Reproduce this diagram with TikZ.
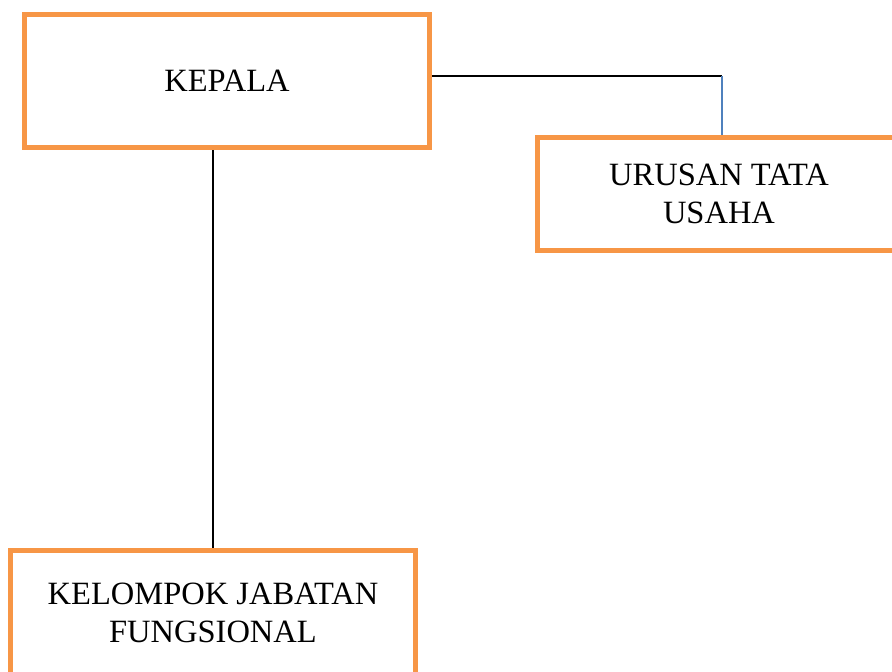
\documentclass[tikz,border=0pt]{standalone}
\usepackage{fontspec}
\setmainfont{Liberation Serif}
\usetikzlibrary{positioning}
\definecolor{oranye}{RGB}{247,150,70}
\definecolor{biru}{RGB}{79,129,189}
\tikzset{
	kotak/.style={draw=oranye, line width=5pt, fill=white, align=center, text=black,
		font=\fontsize{32.5}{38}\selectfont},
	garis/.style={black, line width=1.5pt}
}

\begin{document}
\begin{tikzpicture}[x=1pt, y=-1pt]
	\path[use as bounding box, clip] (0,0) rectangle (892,672);
	% Kotak-kotak
	\node[kotak, minimum width=405pt, minimum height=133pt, text depth=0pt] (kepala) at (227,81) {KEPALA};
	\node[kotak, minimum width=363pt, minimum height=113pt] (urusan) at (719,194) {URUSAN TATA\\USAHA};
	\node[kotak, minimum width=405pt, minimum height=125pt] (kjf) at (213,613) {KELOMPOK JABATAN\\FUNGSIONAL};
	% Garis penghubung
	\coordinate (siku) at (722,76);
	\draw[garis] (kepala.east |- siku) -- (siku);
	\draw[biru, line width=1.5pt] (siku) -- (urusan.north -| siku);
	\draw[garis] (kepala.south -| kjf.north) -- (kjf.north);
\end{tikzpicture}
\end{document}
